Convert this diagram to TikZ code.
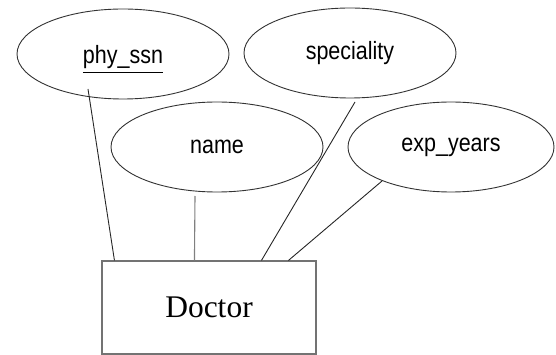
\documentclass[tikz,border=0pt]{standalone}
\usepackage{fontspec}
\setmainfont{Liberation Serif}
\newfontfamily\attrfont[FakeStretch=0.86]{Liberation Sans}
\usetikzlibrary{shapes.geometric,calc}
% key attribute: underline set a little below the descenders
\newcommand{\keyattr}[1]{\underline{\raisebox{0pt}[\height][8pt]{#1}}}
\tikzset{
  attr/.style={ellipse, draw=black!80, line width=0.9pt, inner sep=0pt,
    minimum width=212pt, minimum height=90pt, font=\attrfont\fontsize{25}{25}\selectfont},
  entity/.style={rectangle, draw=black!55, line width=1.1pt, inner sep=0pt,
    minimum width=214pt, minimum height=93pt, font=\fontsize{31.5}{31.5}\selectfont},
  link/.style={draw=black!85, line width=0.9pt},
  linkgray/.style={draw=black!50, line width=1.1pt}
}
\begin{document}
\begin{tikzpicture}[x=1pt,y=-1pt]
\useasboundingbox (0,0) rectangle (556,355);
% attributes
\node[attr, text depth=0pt] (ssn) at (123,54) {\keyattr{phy\_ssn}};
\node[attr] (spec) at (350,53) {speciality};
\node[attr] (name) at (217,147) {name};
\node[attr, minimum width=206pt] (exp) at (451,147) {exp\_years};
% entity
\node[entity] (doc) at (209,307.5) {Doctor};
% connectors
\draw[link] ($(ssn.center)+(-35,35)$) -- ($(doc.north west)+(13,0)$);
\draw[linkgray] ($(name.center)+(-22,49)$) -- ($(doc.north west)+(93,0)$);
\draw[link] ($(spec.center)+(5,49)$) -- ($(doc.north west)+(160,0)$);
\draw[link] ($(exp.center)+(-69,34)$) -- ($(doc.north west)+(187,0)$);
\end{tikzpicture}
\end{document}
